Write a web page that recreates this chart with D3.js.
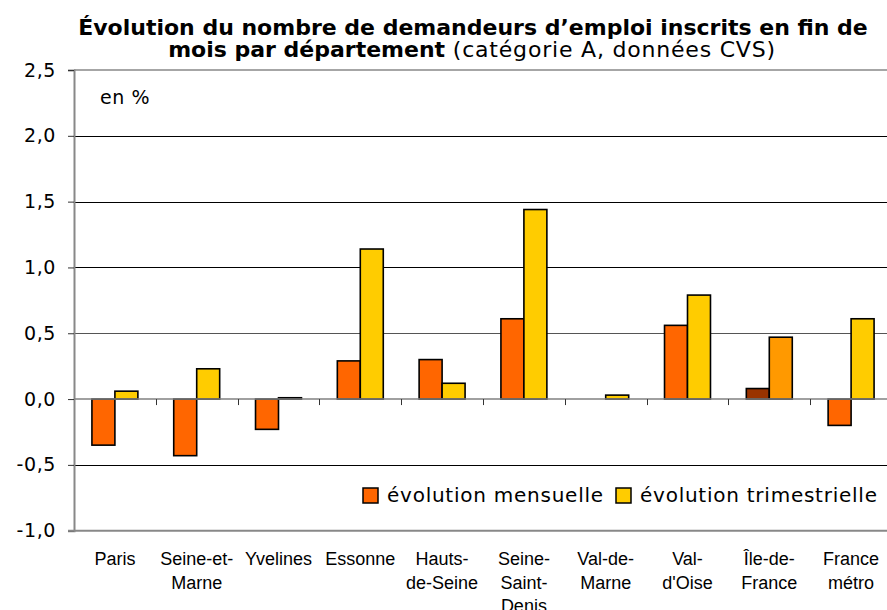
<!DOCTYPE html>
<html>
<head>
<meta charset="utf-8">
<script src="https://cdn.jsdelivr.net/npm/d3@7"></script>
<style>
  html, body { margin: 0; padding: 0; background: #fff; }
  svg { display: block; }
</style>
</head>
<body>
<svg id="chart" width="887" height="610"></svg>
<script>
// categories (line breaks as in the original labels)
var categories = ["Paris", "Seine-et-\nMarne", "Yvelines", "Essonne", "Hauts-\nde-Seine",
  "Seine-\nSaint-\nDenis", "Val-de-\nMarne", "Val-\nd'Oise", "Île-de-\nFrance", "France\nmétro"];
var seriesNames = ["évolution mensuelle", "évolution trimestrielle"];
var mensuelle = [-0.35, -0.43, -0.23, 0.29, 0.30, 0.61, 0.0, 0.56, 0.08, -0.20];
var trimestrielle = [0.06, 0.23, 0.01, 1.14, 0.12, 1.44, 0.03, 0.79, 0.47, 0.61];
var yTicks = [-1.0, -0.5, 0.0, 0.5, 1.0, 1.5, 2.0, 2.5];

// styles
var colors = ["#ff6600", "#ffcc00"];
var highlightCat = "Île-de-France";
var highlightColors = ["#993300", "#ff9900"];

(function() {
  var svg = d3.select("#chart");
  var mLeft = 74, mRight = 892, mTop = 70, mBottom = 530.7;

  var y = d3.scaleLinear().domain([-1, 2.5]).range([mBottom, mTop]);
  var x = d3.scaleBand().domain(categories).range([mLeft, mRight]).paddingInner(0).paddingOuter(0);
  var xs = d3.scaleBand().domain(seriesNames).range([0, x.bandwidth()]).paddingInner(0).paddingOuter(0.78);

  var fmt = function(v) { return d3.format(".1f")(v).replace(".", ",").replace("−", "-"); };

  // gridlines
  svg.append("g").selectAll("line")
    .data(yTicks.filter(function(t) { return t !== 0 && t !== -1 && t !== 2.5; }))
    .join("line")
    .attr("x1", mLeft).attr("x2", mRight)
    .attr("y1", function(d) { return Math.round(y(d)) + 0.5; })
    .attr("y2", function(d) { return Math.round(y(d)) + 0.5; })
    .attr("stroke", function(d) { return d === 0.5 ? "#555" : "#000"; })
    .attr("stroke-width", 1);

  // top border
  svg.append("line")
    .attr("x1", mLeft).attr("x2", mRight)
    .attr("y1", y(2.5)).attr("y2", y(2.5))
    .attr("stroke", "#888").attr("stroke-width", 1.5);

  // y axis
  var yAxis = d3.axisLeft(y).tickValues(yTicks).tickSize(6).tickPadding(12).tickFormat(fmt);
  var gy = svg.append("g").attr("transform", "translate(" + mLeft + ",0)").call(yAxis);
  gy.select(".domain").attr("stroke", "#888").attr("stroke-width", 2);
  gy.selectAll(".tick line").attr("stroke", "#333");
  gy.selectAll(".tick text")
    .attr("font-family", "DejaVu Sans").attr("font-size", 19)
    .attr("letter-spacing", 0.6).attr("fill", "#000");

  // bottom axis line
  svg.append("line")
    .attr("x1", mLeft - 6).attr("x2", mRight)
    .attr("y1", y(-1)).attr("y2", y(-1))
    .attr("stroke", "#888").attr("stroke-width", 2);

  // bars
  var data = [];
  categories.forEach(function(c, i) {
    data.push({ cat: c, s: 0, v: mensuelle[i] });
    data.push({ cat: c, s: 1, v: trimestrielle[i] });
  });

  svg.append("g").selectAll("rect")
    .data(data.filter(function(d) { return d.v !== 0; }))
    .join("rect")
    .attr("x", function(d) { return x(d.cat) + xs(seriesNames[d.s]); })
    .attr("width", xs.bandwidth())
    .attr("y", function(d) { return y(Math.max(0, d.v)); })
    .attr("height", function(d) { return Math.abs(y(d.v) - y(0)); })
    .attr("fill", function(d) {
      return d.cat.replace("\n", "") === highlightCat ? highlightColors[d.s] : colors[d.s];
    })
    .attr("stroke", "#000").attr("stroke-width", 1.6);

  // zero line with category ticks
  svg.append("line")
    .attr("x1", mLeft).attr("x2", mRight)
    .attr("y1", y(0)).attr("y2", y(0))
    .attr("stroke", "#808080").attr("stroke-width", 1.5);
  svg.append("g").selectAll("line")
    .data(categories.slice(1))
    .join("line")
    .attr("x1", function(d) { return Math.round(x(d)) + 0.5; })
    .attr("x2", function(d) { return Math.round(x(d)) + 0.5; })
    .attr("y1", y(0)).attr("y2", y(0) + 6)
    .attr("stroke", "#333").attr("stroke-width", 1);

  // category labels
  var labels = svg.append("g").selectAll("text")
    .data(categories)
    .join("text")
    .attr("text-anchor", "middle")
    .attr("font-family", "Liberation Sans, Arial, sans-serif")
    .attr("font-size", 18)
    .attr("fill", "#000");
  labels.each(function(d) {
    var t = d3.select(this);
    d.split("\n").forEach(function(line, i) {
      t.append("tspan")
        .attr("x", x(d) + x.bandwidth() / 2)
        .attr("y", 565 + i * 23.5)
        .text(line);
    });
  });

  // unit
  svg.append("text")
    .attr("x", 100).attr("y", 104)
    .attr("font-family", "DejaVu Sans").attr("font-size", 19)
    .attr("letter-spacing", 0.6)
    .text("en %");

  // legend
  var legendX = [363, 616];
  var lg = svg.append("g").selectAll("g")
    .data(seriesNames)
    .join("g")
    .attr("transform", function(d, i) { return "translate(" + legendX[i] + ",488)"; });
  lg.append("rect")
    .attr("width", 15).attr("height", 15)
    .attr("fill", function(d, i) { return colors[i]; })
    .attr("stroke", "#000").attr("stroke-width", 1.5);
  lg.append("text")
    .attr("x", 24).attr("y", 14)
    .attr("font-family", "DejaVu Sans").attr("font-size", 20)
    .attr("letter-spacing", 0.75)
    .text(function(d) { return d; });

  // title
  var title = svg.append("text")
    .attr("text-anchor", "middle")
    .attr("font-family", "DejaVu Sans")
    .attr("font-size", 22)
    .attr("fill", "#000");
  title.append("tspan").attr("x", 473).attr("y", 35)
    .attr("font-weight", "bold")
    .text("Évolution du nombre de demandeurs d’emploi inscrits en fin de");
  var t2 = title.append("tspan").attr("x", 472).attr("y", 57);
  t2.append("tspan").attr("font-weight", "bold").text("mois par département ");
  t2.append("tspan").attr("letter-spacing", 0.8).text("(catégorie A, données CVS)");
})();
</script>
</body>
</html>
